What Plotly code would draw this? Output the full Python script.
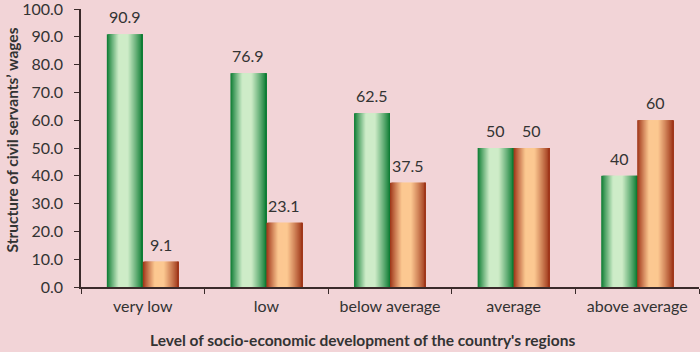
import plotly.graph_objects as go

categories = ["very low", "low", "below average", "average", "above average"]
series_a = [90.9, 76.9, 62.5, 50, 40]
series_b = [9.1, 23.1, 37.5, 50, 60]
labels_a = ["90.9", "76.9", "62.5", "50", "40"]
labels_b = ["9.1", "23.1", "37.5", "50", "60"]
y_ticks = [0, 10, 20, 30, 40, 50, 60, 70, 80, 90, 100]

BAR_W = 0.291
N = 36
FONT = "Lato"
TXT = "#333333"
AXC = "#3a2a2a"


def mix(c1, c2, f):
    return "rgb(%d,%d,%d)" % tuple(round(a + (b - a) * f) for a, b in zip(c1, c2))


def shade(t, lo=0.33, hi=0.58):
    if t < lo:
        f = t / lo
    elif t > hi:
        f = 1 - (t - hi) / (1 - hi)
    else:
        f = 1.0
    return max(0.0, min(1.0, f)) ** 0.9


fig = go.Figure()


def add_gradient_bar(values, base_offset, dark, light):
    step = BAR_W / N
    for k in range(N):
        t = (k + 0.5) / N
        w = min(step * 3, BAR_W - k * step)
        fig.add_trace(go.Bar(
            x=categories, y=values, offset=base_offset + k * step, width=w,
            marker=dict(color=mix(dark, light, shade(t)), line=dict(width=0)),
            showlegend=False, hoverinfo="skip"))


add_gradient_bar(series_a, -BAR_W, (6, 120, 46), (206, 236, 200))
add_gradient_bar(series_b, 0.0, (155, 48, 20), (252, 200, 145))

for vals, labs, off in [(series_a, labels_a, -BAR_W), (series_b, labels_b, 0.0)]:
    for i, (v, lab) in enumerate(zip(vals, labs)):
        fig.add_annotation(x=i + off + BAR_W / 2, y=v, text=lab, showarrow=False,
                           xref="x", yref="y", yanchor="bottom", yshift=6,
                           font=dict(family=FONT, size=16, color=TXT))

fig.add_annotation(text="<b>Structure of civil servants’ wages</b>", textangle=-90,
                   xref="paper", yref="paper", x=0, y=0.527, xshift=-69,
                   xanchor="center", yanchor="middle", showarrow=False,
                   font=dict(family=FONT, size=15.5, color=TXT))
fig.add_annotation(text="<b>Level of socio-economic development of the country's regions</b>",
                   xref="paper", yref="paper", x=0.455, y=-0.19,
                   xanchor="center", yanchor="middle", showarrow=False,
                   font=dict(family=FONT, size=15.5, color=TXT))

fig.update_layout(
    width=700, height=352,
    margin=dict(l=81, r=1, t=9, b=65),
    paper_bgcolor="#f2d4d7", plot_bgcolor="#f2d4d7",
    barmode="overlay",
    font=dict(family=FONT, size=16, color=TXT),
)
fig.update_xaxes(
    type="category", range=[-0.5, 4.5], automargin=False, showgrid=False,
    showline=True, linecolor=AXC, linewidth=1.5,
    ticks="outside", tickson="boundaries", ticklen=5, tickcolor=AXC,
    tickfont=dict(family=FONT, size=16, color=TXT), ticklabelstandoff=4,
)
fig.update_yaxes(
    range=[0, 100], automargin=False, tickvals=y_ticks, ticktext=["%.1f" % v for v in y_ticks],
    showgrid=False, showline=True, linecolor=AXC, linewidth=1.5, zeroline=False,
    ticks="outside", ticklen=5, tickcolor=AXC, ticklabeloverflow="allow",
    tickfont=dict(family=FONT, size=16, color=TXT), ticklabelstandoff=8,
)

fig.write_html("out.html", config={"displayModeBar": False},
               post_script="document.body.style.margin='0';document.body.style.overflow='hidden';")
